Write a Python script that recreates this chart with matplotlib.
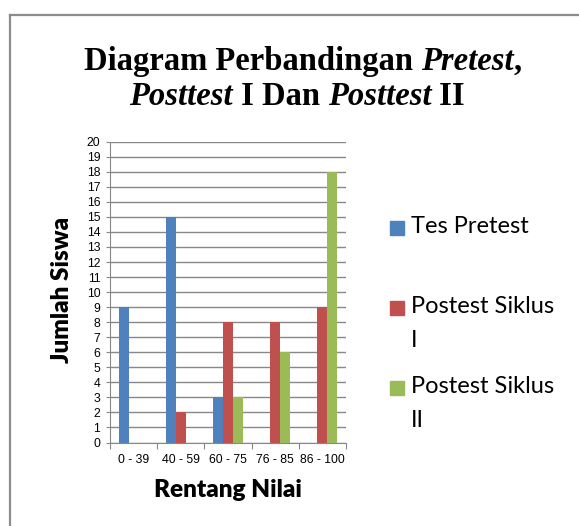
import matplotlib
matplotlib.use("Agg")
import matplotlib.pyplot as plt
from matplotlib.lines import Line2D
from matplotlib.patches import Rectangle
import numpy as np

categories = ["0 - 39", "40 - 59", "60 - 75", "76 - 85", "86 - 100"]
series_names = ["Tes Pretest", "Postest Siklus\nI", "Postest Siklus\nII"]
pretest = [9, 15, 3, 0, 0]
posttest1 = [0, 2, 8, 8, 9]
posttest2 = [0, 0, 3, 6, 18]
y_ticks = list(range(0, 21))
colors = ["#4F81BD", "#C0504D", "#9BBB59"]

W, H = 579, 526
fig = plt.figure(figsize=(W / 100, H / 100), dpi=100)

def fx(px):
    return px / W

def fy(py):
    return 1 - py / H

# frame
fig.add_artist(Line2D([fx(10), fx(10)], [fy(15), fy(526)], color="#8C8C8C", lw=1.6))
fig.add_artist(Line2D([fx(10), fx(579)], [fy(15), fy(15)], color="#8C8C8C", lw=1.6))

ax = fig.add_axes([fx(110), fy(442.5), fx(346) - fx(110), fy(141.7) - fy(442.5)])
x = np.arange(len(categories))
bw = 0.212
for i, vals in enumerate([pretest, posttest1, posttest2]):
    ax.bar(x + (i - 1) * bw, vals, width=bw, color=colors[i], zorder=3)

ax.set_xlim(-0.5, len(categories) - 0.5)
ax.set_ylim(0, 20)
ax.set_yticks(y_ticks)
ax.set_yticklabels([str(v) for v in y_ticks], fontsize=8.8, family="Liberation Sans")
ax.yaxis.grid(True, color="#888888", lw=1, zorder=0)
ax.set_xticks(np.arange(len(categories) + 1) - 0.5)
ax.set_xticklabels([])
ax.set_xticks(x, minor=True)
ax.set_xticklabels(categories, minor=True, fontsize=8.8, family="Liberation Sans")
ax.tick_params(axis="x", which="minor", length=0, pad=8)
ax.tick_params(axis="x", which="major", length=4, color="#888888")
ax.tick_params(axis="y", length=3, pad=4, color="#888888")
for s in ["top", "right"]:
    ax.spines[s].set_visible(False)
for s in ["left", "bottom"]:
    ax.spines[s].set_color("#888888")
ax.set_facecolor("none")

fig.text(fx(62), fy(290), "Jumlah Siswa", rotation=90, ha="center", va="center",
         fontsize=17.5, fontweight="heavy", family="Lato")
fig.text(fx(228), fy(490), "Rentang Nilai", ha="center", va="center",
         fontsize=17.5, fontweight="heavy", family="Lato")

# legend
leg_y = [228, 308, 388]
for name, c, yy in zip(series_names, colors, leg_y):
    fig.add_artist(Rectangle((fx(390), fy(yy + 7)), fx(14), fy(0) - fy(14), color=c,
                             transform=fig.transFigure))
    fig.text(fx(411), fy(yy - 12), name, ha="left", va="top", fontsize=17, family="Lato",
             linespacing=1.75)

# title with mixed styles
fig.canvas.draw()
renderer = fig.canvas.get_renderer()

def draw_line(pieces, cx, baseline):
    texts = []
    total = 0
    for s, style in pieces:
        t = fig.text(0, fy(baseline), s, fontsize=23.5, fontweight="bold", style=style,
                     family="Liberation Serif", va="baseline", ha="left")
        w = t.get_window_extent(renderer).width
        texts.append((t, w))
        total += w
    start = cx - total / 2
    for t, w in texts:
        t.set_x(fx(start))
        start += w

draw_line([("Diagram Perbandingan ", "normal"), ("Pretest", "italic"), (",", "normal")], 303, 70)
draw_line([("Posttest", "italic"), (" I Dan ", "normal"), ("Posttest", "italic"), (" II", "normal")], 297, 105)

fig.savefig("out.png", dpi=100)
